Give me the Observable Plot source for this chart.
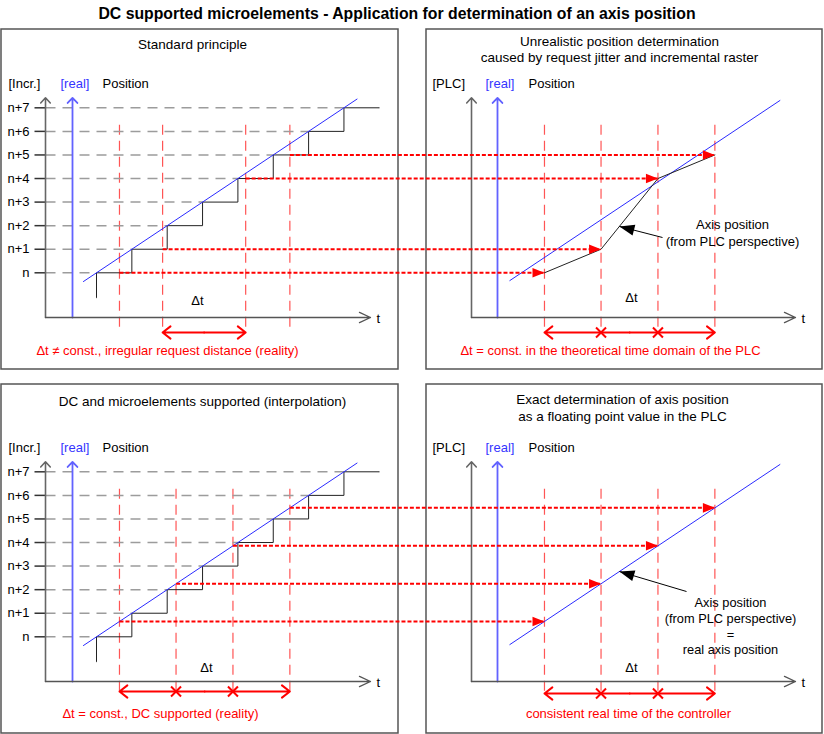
<!DOCTYPE html>
<html><head><meta charset="utf-8">
<script src="https://cdn.jsdelivr.net/npm/d3@7"></script>
<script src="https://cdn.jsdelivr.net/npm/@observablehq/plot@0.6"></script>
<style>
body{margin:0;background:#fff;font-family:"Liberation Sans",Arial,sans-serif;}
#title{width:794px;height:28px;line-height:28px;text-align:center;font-weight:bold;font-size:15.8px;color:#000;}
#chart svg{display:block;}
</style></head><body>
<div id="title"></div>
<div id="chart"></div>
<script>
// ---------------- data ----------------
const titleText = "DC supported microelements - Application for determination of an axis position";
const levelLabels = ["n", "n+1", "n+2", "n+3", "n+4", "n+5", "n+6", "n+7"];
const levelValues = [0, 1, 2, 3, 4, 5, 6, 7];
// incremental encoder position (staircase): time in increment periods / position in increments
const stairTime = [0, 0, 1, 2, 3, 4, 5, 6, 7, 8];
const stairPos  = [-1.06, 0, 1, 2, 3, 4, 5, 6, 7, 7];
// real (continuous) position line, time range
const realLeftT  = [-0.37, 7.37];
const realRightT = [-0.33, 7.31];
// irregular requests (standard principle) and the incremental value read
const irregularRequestT   = [0.65, 1.87, 4.22, 5.47];
const irregularRequestPos = [0, 1, 4, 5];
// DC supported constant requests and the interpolated value
const dcRequestT   = [0.65, 2.25, 3.86, 5.47];
const dcRequestPos = [0.65, 2.25, 3.86, 5.47];
// PLC cycles (theoretical time domain)
const plcCycleT = [0.65, 2.25, 3.86, 5.47];
const annotationTipT = 2.77;

const panelTitles = [
  ["Standard principle"],
  ["Unrealistic position determination", "caused by request jitter and incremental raster"],
  ["DC and microelements supported (interpolation)"],
  ["Exact determination of axis position", "as a floating point value in the PLC"]
];
const unitLabels = ["[Incr.]", "[PLC]", "[Incr.]", "[PLC]"];
const realLabel = "[real]";
const positionLabel = "Position";
const timeLabel = "t";
const deltaLabel = "\u0394t";
const captions = [
  "\u0394t \u2260 const., irregular request distance (reality)",
  "\u0394t = const. in the theoretical time domain of the PLC",
  "\u0394t = const., DC supported (reality)",
  "consistent real time of the controller"
];
const annotationTop = ["Axis position", "(from PLC perspective)"];
const annotationBottom = ["Axis position", "(from PLC perspective)", "=", "real axis position"];

// ---------------- layout ----------------
document.getElementById("title").textContent = titleText;
const W = 824, H = 706, TOP = 28;
const ROW = {T: {base: 272.3, y1: 29, y2: 369}, B: {base: 636.3, y1: 384, y2: 733}};
const COL = {
  L: {x1: 1, x2: 398, t0: 96, axis: 45, real: 72, tEnd: 370, tLabel: 376, unitX: 8, realX: 60, posX: 102},
  R: {x1: 426, x2: 822, t0: 521, axis: 471, real: 497, tEnd: 795, tLabel: 801, unitX: 432, realX: 485, posX: 528}
};
const UX = 35.35, UY = 23.57;
const X = (c, t) => COL[c].t0 + UX * t;
const Y = (r, p) => ROW[r].base - UY * p;

const panels = [
  {r: "T", c: "L", titleX: 192, titleY: [44], labelY: 83, capX: 167, capY: 350, dX: 197, dY: 300, arrowY: 332, req: irregularRequestT},
  {r: "T", c: "R", titleX: 619, titleY: [41.5, 57.5], labelY: 83, capX: 610, capY: 350, dX: 631, dY: 297, arrowY: 332, req: plcCycleT},
  {r: "B", c: "L", titleX: 202, titleY: [401], labelY: 447, capX: 160, capY: 713, dX: 206, dY: 667, arrowY: 691, req: dcRequestT},
  {r: "B", c: "R", titleX: 622, titleY: [399, 416.5], labelY: 447, capX: 628, capY: 713, dX: 631, dY: 667, arrowY: 693, req: plcCycleT}
];
panels.forEach((p, i) => { p.title = panelTitles[i]; p.unit = unitLabels[i]; p.caption = captions[i]; });

const RED = "#ff0000", RED_V = "#ff5555", BLUE = "#2b2bff", BLUE_AX = "#6262ff";
const FONT = "'Liberation Sans', Arial, sans-serif";

// custom symbols
const headSymbol = (len, half) => ({draw(ctx) { ctx.moveTo(0, 0); ctx.lineTo(-len, -half); ctx.lineTo(-len, half); ctx.closePath(); }});
const crossSymbol = (h) => ({draw(ctx) { ctx.moveTo(-h, -h); ctx.lineTo(h, h); ctx.moveTo(-h, h); ctx.lineTo(h, -h); }});

const marks = [];
const txt = (data, opts) => marks.push(Plot.text(data, {x: "x", y: "y", text: "text", fontFamily: FONT, fontSize: 13, fill: "#000", ...opts}));

// panel frames
marks.push(Plot.rect(panels, {x1: d => COL[d.c].x1, x2: d => COL[d.c].x2, y1: d => ROW[d.r].y1, y2: d => ROW[d.r].y2, fill: "none", stroke: "#555", strokeWidth: 1.5}));

// red vertical request lines
marks.push(Plot.link(panels.flatMap(p => p.req.map(t => ({x: X(p.c, t), y1: ROW[p.r].base - 148, y2: ROW[p.r].base + 60}))),
  {x1: "x", x2: "x", y1: "y1", y2: "y2", stroke: RED_V, strokeWidth: 1.2, strokeDasharray: "10,6"}));

// grid, ticks and tick labels (left panels)
const leftRows = ["T", "B"];
const gridData = leftRows.flatMap(r => levelValues.map((k, i) => ({r, k, label: levelLabels[i]})));
marks.push(Plot.link(gridData, {x1: COL.L.axis, x2: d => X("L", d.k), y1: d => Y(d.r, d.k), y2: d => Y(d.r, d.k), stroke: "#9c9c9c", strokeWidth: 1.5, strokeDasharray: "10,7"}));
marks.push(Plot.link(gridData, {x1: 34, x2: COL.L.axis, y1: d => Y(d.r, d.k), y2: d => Y(d.r, d.k), stroke: "#333", strokeWidth: 1.5}));
txt(gridData.map(d => ({x: 29, y: Y(d.r, d.k), text: d.label})), {textAnchor: "end"});

// staircase (incremental position)
leftRows.forEach(r => {
  marks.push(Plot.line(stairTime.map((t, i) => ({x: X("L", t), y: Y(r, stairPos[i])})), {x: "x", y: "y", curve: "step-after", stroke: "#222", strokeWidth: 1}));
});

// axes
marks.push(Plot.arrow(panels, {x1: d => COL[d.c].axis, x2: d => COL[d.c].axis, y1: d => ROW[d.r].base + 44.7, y2: d => ROW[d.r].base - 175,
  stroke: "#666", strokeWidth: 1.6, headAngle: 86, headLength: 6.6}));
marks.push(Plot.arrow(panels, {x1: d => COL[d.c].real, x2: d => COL[d.c].real, y1: d => ROW[d.r].base + 44.7, y2: d => ROW[d.r].base - 175,
  stroke: BLUE_AX, strokeWidth: 1.8, headAngle: 86, headLength: 5.9}));
marks.push(Plot.arrow(panels, {x1: d => COL[d.c].axis, x2: d => COL[d.c].tEnd, y1: d => ROW[d.r].base + 44.7, y2: d => ROW[d.r].base + 44.7,
  stroke: "#555", strokeWidth: 1.3, headAngle: 50, headLength: 14}));

// real position lines
panels.forEach(p => {
  const range = p.c === "L" ? realLeftT : realRightT;
  marks.push(Plot.line(range.map(t => ({x: X(p.c, t), y: Y(p.r, t)})), {x: "x", y: "y", stroke: BLUE, strokeWidth: 1}));
});

// PLC view of the axis position (top right)
const plcPts = plcCycleT.map((t, i) => ({x: X("R", t), y: Y("T", irregularRequestPos[i])}));
marks.push(Plot.line(plcPts, {x: "x", y: "y", stroke: "#222", strokeWidth: 1}));

// red request arrows from left to right panels
const reqTop = irregularRequestT.map((t, i) => ({x1: X("L", t), x2: X("R", plcCycleT[i]), y: Y("T", irregularRequestPos[i])}));
const reqBot = dcRequestT.map((t, i) => ({x1: X("L", t), x2: X("R", plcCycleT[i]), y: Y("B", dcRequestPos[i])}));
const reqAll = reqTop.concat(reqBot);
marks.push(Plot.link(reqAll, {x1: "x1", x2: "x2", y1: "y", y2: "y", stroke: RED, strokeWidth: 2, strokeDasharray: "4,2"}));
marks.push(Plot.dot(reqAll, {x: "x2", y: "y", r: 1, symbol: headSymbol(12, 4.8), fill: RED, stroke: "none"}));

// annotation arrows
function interp(ts, ps, t) { for (let i = 0; i < ts.length - 1; i++) if (t >= ts[i] && t <= ts[i + 1]) return ps[i] + (ps[i + 1] - ps[i]) * (t - ts[i]) / (ts[i + 1] - ts[i]); return ps[0]; }
const annot = [
  {tx: 662, ty: 237, x: X("R", annotationTipT), y: Y("T", interp(plcCycleT, irregularRequestPos, annotationTipT))},
  {tx: 686, ty: 591, x: X("R", annotationTipT), y: Y("B", annotationTipT)}
];
annot.forEach(a => a.angle = Math.atan2(a.y - a.ty, a.x - a.tx) * 180 / Math.PI);
marks.push(Plot.link(annot, {x1: "tx", y1: "ty", x2: "x", y2: "y", stroke: "#000", strokeWidth: 1}));
marks.push(Plot.dot(annot, {x: "x", y: "y", r: 1, rotate: "angle", symbol: headSymbol(15, 5.5), fill: "#000", stroke: "none"}));

// dimension (Δt) double arrows
const dims = [
  {p: panels[0], a: X("L", irregularRequestT[1]), b: X("L", irregularRequestT[2]), m: []},
  {p: panels[1], a: X("R", plcCycleT[0]), b: X("R", plcCycleT[3]), m: [X("R", plcCycleT[1]), X("R", plcCycleT[2])]},
  {p: panels[2], a: X("L", dcRequestT[0]), b: X("L", dcRequestT[3]), m: [X("L", dcRequestT[1]), X("L", dcRequestT[2])]},
  {p: panels[3], a: X("R", plcCycleT[0]), b: X("R", plcCycleT[3]), m: [X("R", plcCycleT[1]), X("R", plcCycleT[2])]}
];
const dimHalves = dims.flatMap(d => [{x1: (d.a + d.b) / 2, x2: d.a, y: d.p.arrowY}, {x1: (d.a + d.b) / 2, x2: d.b, y: d.p.arrowY}]);
marks.push(Plot.arrow(dimHalves, {x1: "x1", x2: "x2", y1: "y", y2: "y", stroke: RED, strokeWidth: 2, headAngle: 76, headLength: 7.5}));
marks.push(Plot.dot(dims.flatMap(d => d.m.map(x => ({x, y: d.p.arrowY}))), {x: "x", y: "y", r: 1, symbol: crossSymbol(5), stroke: RED, strokeWidth: 2, fill: "none"}));

// texts
txt(panels.flatMap(p => p.title.map((s, i) => ({x: p.titleX, y: p.titleY[i], text: s}))), {fontSize: 13.5});
txt(panels.map(p => ({x: COL[p.c].unitX, y: p.labelY, text: p.unit})), {textAnchor: "start"});
txt(panels.map(p => ({x: COL[p.c].realX, y: p.labelY, text: realLabel})), {textAnchor: "start", fill: "#3535ff"});
txt(panels.map(p => ({x: COL[p.c].posX, y: p.labelY, text: positionLabel})), {textAnchor: "start"});
txt(panels.map(p => ({x: COL[p.c].tLabel, y: ROW[p.r].base + 46, text: timeLabel})), {textAnchor: "start"});
txt(panels.map(p => ({x: p.dX, y: p.dY, text: deltaLabel})), {});
txt(panels.map(p => ({x: p.capX, y: p.capY, text: p.caption})), {fill: RED});
txt(annotationTop.map((s, i) => ({x: 732, y: [224.5, 241.5][i], text: s})), {});
txt(annotationBottom.map((s, i) => ({x: 730, y: [602, 618.5, 634.5, 649.5][i], text: s})), {fontSize: 12.8});

const chart = Plot.plot({
  width: W, height: H,
  margin: 0, marginTop: 0, marginRight: 0, marginBottom: 0, marginLeft: 0,
  x: {type: "linear", domain: [0, W], range: [0, W], axis: null},
  y: {type: "linear", domain: [TOP, TOP + H], range: [0, H], axis: null},
  style: {fontFamily: FONT, fontSize: "13px", background: "#fff", overflow: "visible"},
  marks
});
document.getElementById("chart").appendChild(chart);
</script>
</body></html>
